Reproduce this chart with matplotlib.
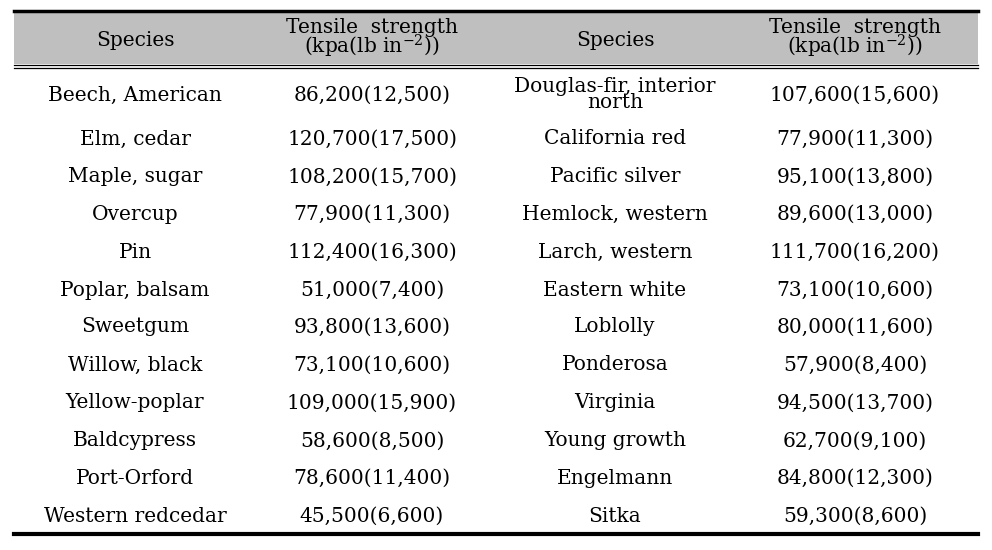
import matplotlib.pyplot as plt

# Table data
species_left = ['Beech, American', 'Elm, cedar', 'Maple, sugar', 'Overcup', 'Pin',
                'Poplar, balsam', 'Sweetgum', 'Willow, black', 'Yellow-poplar',
                'Baldcypress', 'Port-Orford', 'Western redcedar']
kpa_left = [86200, 120700, 108200, 77900, 112400, 51000, 93800, 73100, 109000, 58600, 78600, 45500]
lb_left = [12500, 17500, 15700, 11300, 16300, 7400, 13600, 10600, 15900, 8500, 11400, 6600]

species_right = ['Douglas-fir, interior\nnorth', 'California red', 'Pacific silver',
                 'Hemlock, western', 'Larch, western', 'Eastern white', 'Loblolly',
                 'Ponderosa', 'Virginia', 'Young growth', 'Engelmann', 'Sitka']
kpa_right = [107600, 77900, 95100, 89600, 111700, 73100, 80000, 57900, 94500, 62700, 84800, 59300]
lb_right = [15600, 11300, 13800, 13000, 16200, 10600, 11600, 8400, 13700, 9100, 12300, 8600]

header_species = 'Species'
header_strength = 'Tensile  strength\n(kpa(lb in$^{-2}$))'

plt.rcParams['font.family'] = 'DejaVu Serif'
plt.rcParams['mathtext.fontset'] = 'dejavuserif'

fig = plt.figure(figsize=(9.92, 5.5), dpi=100)
ax = fig.add_axes([0, 0, 1, 1])
ax.set_xlim(0, 992)
ax.set_ylim(550, 0)
ax.axis('off')

x0, x1 = 14, 978
col_x = [135, 372, 615, 855]
fs = 14.5

# Header background and rules
ax.fill_between([x0, x1], 12, 64, color='#bfbfbf', lw=0)
ax.plot([x0, x1], [11, 11], color='black', lw=2.5)
ax.plot([x0, x1], [64.5, 64.5], color='black', lw=0.9)
ax.plot([x0, x1], [67.5, 67.5], color='black', lw=0.9)
ax.plot([x0, x1], [533.5, 533.5], color='black', lw=3)

for i, x in enumerate(col_x):
    if i % 2 == 0:
        ax.text(x, 38, header_species, ha='center', va='center_baseline', fontsize=fs)
    else:
        ax.text(x, 39, header_strength, ha='center', va='center', fontsize=fs, linespacing=0.8)

def fmt(kpa, lb):
    return '{:,}({:,})'.format(kpa, lb)

row_y = [95, 139, 177, 214, 252, 290, 327, 365, 403, 441, 478, 516]
dy = -2  # baseline adjustment
for i, y in enumerate(row_y):
    ax.text(col_x[0], y + dy, species_left[i], ha='center', va='center_baseline', fontsize=fs)
    ax.text(col_x[1], y + dy, fmt(kpa_left[i], lb_left[i]), ha='center', va='center_baseline', fontsize=fs)
    if '\n' in species_right[i]:
        ax.text(col_x[2], y - 1, species_right[i], ha='center', va='center', fontsize=fs, linespacing=0.8)
    else:
        ax.text(col_x[2], y + dy, species_right[i], ha='center', va='center_baseline', fontsize=fs)
    ax.text(col_x[3], y + dy, fmt(kpa_right[i], lb_right[i]), ha='center', va='center_baseline', fontsize=fs)

fig.savefig('out.png', dpi=100)
